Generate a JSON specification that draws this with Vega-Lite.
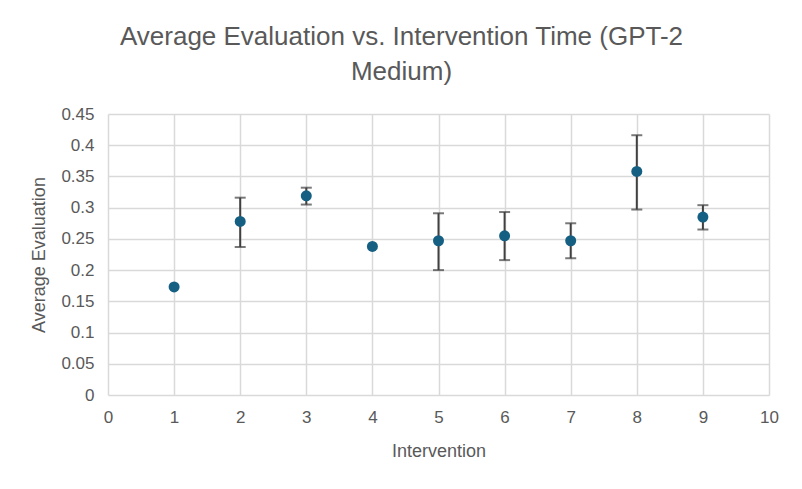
{
  "$schema": "https://vega.github.io/schema/vega-lite/v6.json",
  "width": 661,
  "height": 281,
  "autosize": "none",
  "padding": {"left": 108, "top": 114, "right": 33, "bottom": 94},
  "background": "white",
  "title": {
    "text": ["Average Evaluation vs. Intervention Time (GPT-2", "Medium)"],
    "font": "Liberation Sans",
    "fontSize": 26,
    "fontWeight": "normal",
    "color": "#595959",
    "anchor": "middle",
    "frame": "group",
    "dx": -37,
    "lineHeight": 35,
    "offset": 20
  },
  "config": {
    "view": {"stroke": null},
    "axis": {
      "labelFont": "Liberation Sans",
      "labelFontSize": 17,
      "labelColor": "#595959",
      "titleFont": "Liberation Sans",
      "titleFontSize": 18,
      "titleFontWeight": "normal",
      "titleColor": "#595959",
      "gridColor": "#d9d9d9",
      "gridWidth": 1.5,
      "domain": false,
      "ticks": false,
      "tickSize": 0,
      "labelOverlap": false,
      "labelFlush": false
    }
  },
  "data": {
    "values": [
      {"intervention": 1, "avg": 0.173, "lo": null, "hi": null},
      {"intervention": 2, "avg": 0.278, "lo": 0.237, "hi": 0.316},
      {"intervention": 3, "avg": 0.319, "lo": 0.305, "hi": 0.332},
      {"intervention": 4, "avg": 0.238, "lo": null, "hi": null},
      {"intervention": 5, "avg": 0.247, "lo": 0.200, "hi": 0.291},
      {"intervention": 6, "avg": 0.255, "lo": 0.216, "hi": 0.293},
      {"intervention": 7, "avg": 0.247, "lo": 0.219, "hi": 0.275},
      {"intervention": 8, "avg": 0.358, "lo": 0.297, "hi": 0.416},
      {"intervention": 9, "avg": 0.285, "lo": 0.265, "hi": 0.304}
    ]
  },
  "encoding": {
    "x": {
      "field": "intervention",
      "type": "quantitative",
      "scale": {"domain": [0, 10], "nice": false},
      "axis": {"title": "Intervention", "values": [0,1,2,3,4,5,6,7,8,9,10], "format": "d", "labelPadding": 14, "titlePadding": 17}
    }
  },
  "layer": [
    {
      "mark": {"type": "rule", "color": "#404040", "strokeWidth": 2},
      "encoding": {
        "y": {
          "field": "lo",
          "type": "quantitative",
          "scale": {"domain": [0, 0.45], "nice": false},
          "axis": {"title": "Average Evaluation", "values": [0,0.05,0.1,0.15,0.2,0.25,0.3,0.35,0.4,0.45], "format": "~g", "labelPadding": 14, "titlePadding": 12}
        },
        "y2": {"field": "hi"}
      }
    },
    {
      "mark": {"type": "tick", "orient": "horizontal", "color": "#404040", "thickness": 2, "size": 11},
      "encoding": {"y": {
          "field": "lo",
          "type": "quantitative",
          "scale": {"domain": [0, 0.45], "nice": false},
          "axis": {"title": "Average Evaluation", "values": [0,0.05,0.1,0.15,0.2,0.25,0.3,0.35,0.4,0.45], "format": "~g", "labelPadding": 14, "titlePadding": 12}
        }}
    },
    {
      "mark": {"type": "tick", "orient": "horizontal", "color": "#404040", "thickness": 2, "size": 11},
      "encoding": {"y": {
          "field": "hi",
          "type": "quantitative",
          "scale": {"domain": [0, 0.45], "nice": false},
          "axis": {"title": "Average Evaluation", "values": [0,0.05,0.1,0.15,0.2,0.25,0.3,0.35,0.4,0.45], "format": "~g", "labelPadding": 14, "titlePadding": 12}
        }}
    },
    {
      "mark": {"type": "circle", "color": "#156082", "opacity": 1, "size": 121},
      "encoding": {"y": {
          "field": "avg",
          "type": "quantitative",
          "scale": {"domain": [0, 0.45], "nice": false},
          "axis": {"title": "Average Evaluation", "values": [0,0.05,0.1,0.15,0.2,0.25,0.3,0.35,0.4,0.45], "format": "~g", "labelPadding": 14, "titlePadding": 12}
        }}
    }
  ]
}
